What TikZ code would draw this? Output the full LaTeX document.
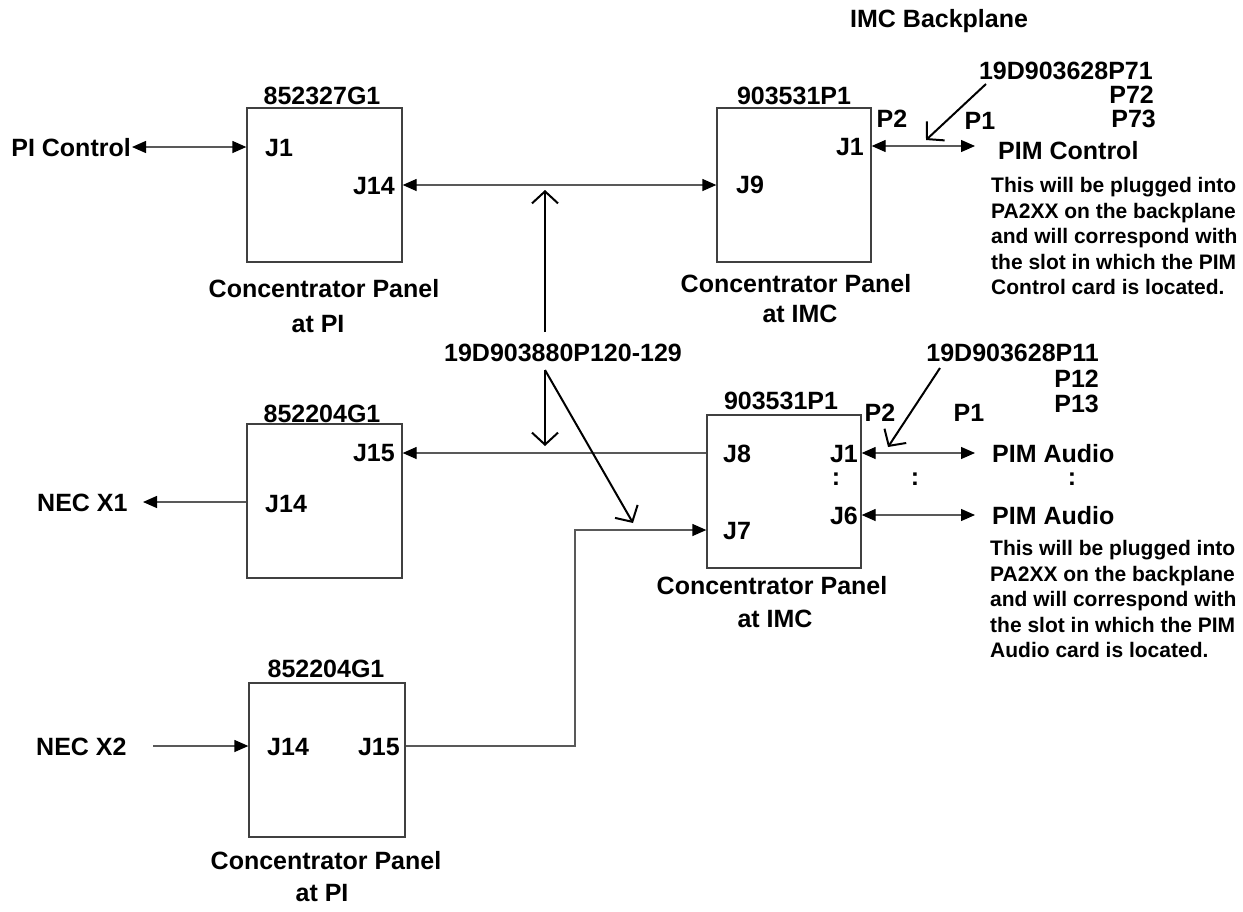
\documentclass[tikz,border=0pt]{standalone}
\usepackage{fontspec}
\setmainfont{Liberation Sans}
\usetikzlibrary{arrows.meta}
\begin{document}
\begin{tikzpicture}[x=1pt,y=-1pt,
  lbl/.style={inner sep=0pt, font=\fontsize{25}{30}\selectfont\bfseries},
  note/.style={inner sep=0pt, align=left, anchor=north west, font=\fontsize{21}{25.6}\selectfont\bfseries},
  panel/.style={draw=black!75, line width=1.3pt, minimum width=155pt, minimum height=154pt, inner sep=0pt},
  conn/.style={draw=black!65, line width=1.3pt, >={Triangle[length=14pt,width=12pt,color=black]}},
  ptr/.style={draw=black, line width=2pt, -{Straight Barb[length=12pt,width=26pt]}},
]
\useasboundingbox (0,0) rectangle (1243,911);

% panels
\node[panel] (b1) at (324.5,185) {};
\node[panel, minimum width=154pt] (b2) at (794,185) {};
\node[panel] (b3) at (324.5,501) {};
\node[panel, minimum width=154pt, minimum height=153pt] (b4) at (784,491.5) {};
\node[panel, minimum width=156pt] (b5) at (327,760) {};

% titles
\node[lbl, anchor=base west] (imcbp) at (850,27) {IMC Backplane};
\node[lbl, anchor=base] (t1) at (322,104) {852327G1};
\node[lbl, anchor=base] (t2) at (794,104) {903531P1};
\node[lbl, anchor=base] (t3) at (322,422) {852204G1};
\node[lbl, anchor=base] (t4) at (781,409) {903531P1};
\node[lbl, anchor=base] (t5) at (326,677) {852204G1};

% captions
\node[lbl, anchor=base] (c1a) at (324,297) {Concentrator Panel};
\node[lbl, anchor=base] (c1b) at (318,332) {at PI};
\node[lbl, anchor=base] (c2a) at (796,292) {Concentrator Panel};
\node[lbl, anchor=base] (c2b) at (800,322) {at IMC};
\node[lbl, anchor=base] (c4a) at (772,594) {Concentrator Panel};
\node[lbl, anchor=base] (c4b) at (775,627) {at IMC};
\node[lbl, anchor=base] (c5a) at (326,869) {Concentrator Panel};
\node[lbl, anchor=base] (c5b) at (322,901) {at PI};

% jack labels
\node[lbl, anchor=base west] (j1a) at (265,156) {J1};
\node[lbl, anchor=base east] (j14a) at (395,194) {J14};
\node[lbl, anchor=base west] (j9) at (736,193) {J9};
\node[lbl, anchor=base east] (j1b) at (864,155) {J1};
\node[lbl, anchor=base east] (j15a) at (395,461) {J15};
\node[lbl, anchor=base west] (j14b) at (265,512) {J14};
\node[lbl, anchor=base west] (j8) at (723,462) {J8};
\node[lbl, anchor=base west] (j7) at (723,539) {J7};
\node[lbl, anchor=base east] (j1c) at (858,462) {J1};
\node[lbl, anchor=base] (dotsA) at (836,485) {:};
\node[lbl, anchor=base east] (j6) at (858,524) {J6};
\node[lbl, anchor=base west] (j14c) at (267,755) {J14};
\node[lbl, anchor=base east] (j15c) at (400,755) {J15};

% P labels
\node[lbl, anchor=base] (p2a) at (892,127) {P2};
\node[lbl, anchor=base] (p1a) at (980,129) {P1};
\node[lbl, anchor=base] (p2b) at (880,421) {P2};
\node[lbl, anchor=base] (p1b) at (969,421) {P1};

% external labels
\node[lbl, anchor=base east] (pictl) at (131,156) {PI Control};
\node[lbl, anchor=base west] (pimctl) at (998,159) {PIM Control};
\node[lbl, anchor=base west] (nec1) at (37,511) {NEC X1};
\node[lbl, anchor=base west] (nec2) at (36,755) {NEC X2};
\node[lbl, anchor=base west] (pima1) at (992,462) {PIM Audio};
\node[lbl, anchor=base west] (pima6) at (992,524) {PIM Audio};
\node[lbl, anchor=base] (dotsB) at (915,485) {:};
\node[lbl, anchor=base] (dotsC) at (1072,485) {:};

% cable part numbers
\node[lbl, anchor=base east] (cabA) at (1153,79) {19D903628P71};
\node[lbl, anchor=base east] (cabA2) at (1154,103) {P72};
\node[lbl, anchor=base east] (cabA3) at (1156,127) {P73};
\node[lbl, anchor=base] (cabB) at (563,361) {19D903880P120-129};
\node[lbl, anchor=base east] (cabC) at (1099,361) {19D903628P11};
\node[lbl, anchor=base east] (cabC2) at (1099,387) {P12};
\node[lbl, anchor=base east] (cabC3) at (1099,412) {P13};

% notes
\node[note] (noteA) at (991,177) {This will be plugged into\\PA2XX on the backplane\\and will correspond with\\the slot in which the PIM\\Control card is located.};
\node[note] (noteB) at (990,540) {This will be plugged into\\PA2XX on the backplane\\and will correspond with\\the slot in which the PIM\\Audio card is located.};

% connector coordinates
\coordinate (ePI) at (132,147);
\coordinate (yJ14) at (0,185);
\coordinate (ePIMc) at (975,146);
\coordinate (yJ8) at (0,453);
\coordinate (eNX1) at (143,502);
\coordinate (eNX2) at (153,746);
\coordinate (bendA) at (575,746);
\coordinate (yJ7) at (0,530);
\coordinate (ePA1) at (975,453);
\coordinate (ePA6) at (975,515);

% connectors
\draw[conn,<->] (ePI) -- (b1.west |- ePI);
\draw[conn,<->] (b1.east |- yJ14) -- (b2.west |- yJ14);
\draw[conn,<->] (b2.east |- ePIMc) -- (ePIMc);
\draw[conn,->] (b4.west |- yJ8) -- (b3.east |- yJ8);
\draw[conn,->] (b3.west |- eNX1) -- (eNX1);
\draw[conn,->] (eNX2) -- (b5.west |- eNX2);
\draw[conn,->] (b5.east |- bendA) -- (bendA) -- (bendA |- yJ7) -- (b4.west |- yJ7);
\draw[conn,<->] (b4.east |- ePA1) -- (ePA1);
\draw[conn,<->] (b4.east |- ePA6) -- (ePA6);

% pointer arrows
\coordinate (pA0) at (986,84);   \coordinate (pA1) at (926,140);
\coordinate (pB0) at (545,332);  \coordinate (pB1) at (545,190);
\coordinate (pC0) at (545,370);  \coordinate (pC1) at (545,446);
\coordinate (pD1) at (633,523);
\coordinate (pE0) at (940,368);  \coordinate (pE1) at (888,447);
\draw[ptr] (pA0) -- (pA1);
\draw[ptr] (pB0) -- (pB1);
\draw[ptr] (pC0) -- (pC1);
\draw[ptr] (pC0) -- (pD1);
\draw[ptr] (pE0) -- (pE1);
\end{tikzpicture}
\end{document}
